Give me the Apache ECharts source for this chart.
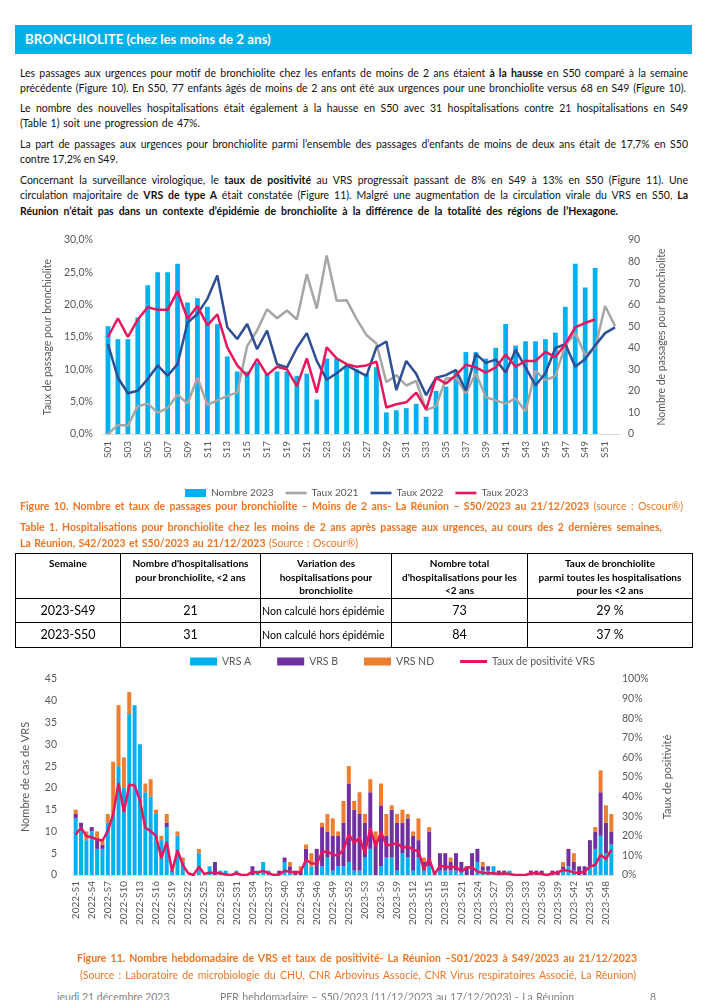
<!DOCTYPE html>
<html><head><meta charset="utf-8">
<script src="https://cdn.jsdelivr.net/npm/echarts@6/dist/echarts.min.js"></script>
<style>
body{margin:0;width:707px;height:1000px;position:relative;background:#fff;font-family:Lato,sans-serif;overflow:hidden}
#hdr{position:absolute;left:15px;top:25px;width:677px;height:29px;background:#00B0E6;color:#fff;font-weight:bold;font-size:13.3px;line-height:29px;padding-left:10px;box-sizing:border-box}
.ln{position:absolute;left:20px;white-space:nowrap;font-size:10.5px;color:#111;line-height:14px}
.or{color:#EE7623}
.cap{position:absolute;white-space:nowrap;font-size:10.5px;line-height:14px}
.ft{position:absolute;white-space:nowrap;font-size:10.5px;color:#7f7f7f;line-height:14px;top:990px}
#tb{position:absolute;left:15px;top:553px;width:677px;border-collapse:collapse;table-layout:fixed;font-family:Lato,sans-serif}
#tb td,#tb th{border:1.3px solid #000;padding:0;color:#000;white-space:nowrap;overflow:hidden}
#tb th{font-size:10px;font-weight:bold;vertical-align:top;padding-top:3px;line-height:13.5px}
#tb td{font-size:12.5px;text-align:center;line-height:20px}
#tb td.nc{text-align:left;font-size:10.6px;padding-left:1px}
#c1{position:absolute;left:0;top:225px;width:707px;height:280px}
#c2{position:absolute;left:0;top:650px;width:707px;height:300px}
</style></head><body>
<div id="hdr">BRONCHIOLITE (chez les moins de 2 ans)</div>
<div class="ln" style="top:66px" data-w="668">Les passages aux urgences pour motif de bronchiolite chez les enfants de moins de 2 ans étaient <b>à la hausse</b> en S50 comparé à la semaine</div>
<div class="ln" style="top:81px" data-w="666">précédente (Figure 10). En S50, 77 enfants âgés de moins de 2 ans ont été aux urgences pour une bronchiolite versus 68 en S49 (Figure 10).</div>
<div class="ln" style="top:101px" data-w="668">Le nombre des nouvelles hospitalisations était également à la hausse en S50 avec 31 hospitalisations contre 21 hospitalisations en S49</div>
<div class="ln" style="top:116px" data-w="180">(Table 1) soit une progression de 47%.</div>
<div class="ln" style="top:137px" data-w="668">La part de passages aux urgences pour bronchiolite parmi l’ensemble des passages d’enfants de moins de deux ans était de 17,7% en S50</div>
<div class="ln" style="top:152px" data-w="98">contre 17,2% en S49.</div>
<div class="ln" style="top:173px" data-w="668">Concernant la surveillance virologique, le <b>taux de positivité</b> au VRS progressait passant de 8% en S49 à 13% en S50 (Figure 11). Une</div>
<div class="ln" style="top:188px" data-w="668">circulation majoritaire de <b>VRS de type A</b> était constatée (Figure 11). Malgré une augmentation de la circulation virale du VRS en S50, <b>La</b></div>
<div class="ln" style="top:204px" data-w="598"><b>Réunion n’était pas dans un contexte d’épidémie de bronchiolite à la différence de la totalité des régions de l’Hexagone.</b></div>

<div id="c1"></div>

<div class="cap or" style="left:20px;top:499px" data-w="663"><b>Figure 10. Nombre et taux de passages pour bronchiolite – Moins de 2 ans- La Réunion – S50/2023 au 21/12/2023</b> (source : Oscour®)</div>
<div class="cap or" style="left:20px;top:520px" data-w="642"><b>Table 1. Hospitalisations pour bronchiolite chez les moins de 2 ans après passage aux urgences, au cours des 2 dernières semaines,</b></div>
<div class="cap or" style="left:20px;top:536px" data-w="338"><b>La Réunion, S42/2023 et S50/2023 au 21/12/2023</b> (Source : Oscour®)</div>

<table id="tb">
<colgroup><col style="width:105px"><col style="width:140px"><col style="width:131px"><col style="width:136px"><col style="width:165px"></colgroup>
<tr style="height:45px"><th>Semaine</th><th>Nombre d'hospitalisations<br>pour bronchiolite, &lt;2 ans</th><th>Variation des<br>hospitalisations pour<br>bronchiolite</th><th>Nombre total<br>d'hospitalisations pour les<br>&lt;2 ans</th><th>Taux de bronchiolite<br>parmi toutes les hospitalisations<br>pour les &lt;2 ans</th></tr>
<tbody id="tbody"></tbody>
</table>

<div id="c2"></div>

<div class="cap or" style="left:77px;top:951px" data-w="560"><b>Figure 11. Nombre hebdomadaire de VRS et taux de positivité- La Réunion –S01/2023 à S49/2023 au 21/12/2023</b></div>
<div class="cap or" style="left:80px;top:968px" data-w="556">(Source : Laboratoire de microbiologie du CHU, CNR Arbovirus Associé, CNR Virus respiratoires Associé, La Réunion)</div>

<div class="ft" style="left:57px">jeudi 21 décembre 2023</div>
<div class="ft" style="left:220px" data-w="354">PER hebdomadaire – S50/2023 (11/12/2023 au 17/12/2023) - La Réunion</div>
<div class="ft" style="left:650px">8</div>

<script>
// ---------- Figure 10 data ----------
const weeks = ['S01','S02','S03','S04','S05','S06','S07','S08','S09','S10','S11','S12','S13','S14','S15','S16','S17','S18','S19','S20','S21','S22','S23','S24','S25','S26','S27','S28','S29','S30','S31','S32','S33','S34','S35','S36','S37','S38','S39','S40','S41','S42','S43','S44','S45','S46','S47','S48','S49','S50','S51','S52'];
const nombre2023 = [50,44,44,54,69,75,75,79,61,63,59,51,36,29,29,33,28,29,29,27,28,16,35,35,31,30,28,31,10,11,12,14,8,20,22,29,38,38,35,40,51,41,43,43,44,47,59,79,68,77,null,null];
const taux2021 = [0,1.4,1.3,4.3,4.7,3.3,4.0,6.1,4.7,8.7,4.5,5.2,5.9,6.4,13.6,16.0,19.3,17.9,19.1,17.7,24.7,19.4,27.6,20.6,20.7,17.8,15.3,14.0,8.0,9.1,7.5,8.2,3.7,4.3,8.6,8.7,6.3,9.4,5.7,5.2,4.7,5.5,3.5,9.8,8.3,9.0,13.7,15.6,12.2,13.3,19.8,16.7];
const taux2022 = [13.9,8.7,6.3,6.7,8.5,10.6,9.0,10.8,17.2,18.6,20.9,24.5,16.5,14.7,17.0,13.1,16.0,10.8,10.3,13.3,15.6,11.3,8.4,9.4,10.6,9.8,9.0,13.4,14.3,6.8,11.3,9.3,6.0,8.7,9.1,9.9,6.7,12.4,11.0,11.5,9.5,13.0,10.3,7.5,9.4,13.3,13.9,10.4,11.6,13.7,15.6,16.5];
const taux2023 = [15.0,17.9,15.0,17.7,19.6,19.2,19.2,22.1,17.8,19.8,16.8,18.5,13.4,10.6,9.0,11.6,9.1,10.4,10.0,7.4,11.7,6.4,13.4,11.7,10.8,10.4,10.6,11.2,4.1,4.6,4.9,6.4,3.8,8.7,7.8,9.1,10.7,10.3,9.5,10.3,12.3,10.4,11.3,11.3,12.7,11.9,13.9,16.5,17.2,17.7,null,null];

// ---------- Table 1 data ----------
const tableWeeks = ['2023-S49','2023-S50'];
const tableHosp = [21,31];
const tableVariation = ['Non calculé hors épidémie','Non calculé hors épidémie'];
const tableTotal = [73,84];
const tableTaux = ['29 %','37 %'];

// ---------- Figure 11 data ----------
const vrsWeeks = [];
for (let w = 1; w <= 52; w++) vrsWeeks.push('2022-S' + w);
for (let w = 1; w <= 49; w++) vrsWeeks.push('2023-S' + w);
const vrsA = [13,11,8,10,6,6,12,14,25,20, 37,39,30,19,18,14,8,11,1,9, 3,0,0,5,0,2,0,1,1,0, 1,0,0,0,1,3,1,0,0,3, 1,0,0,3,2,0,2,4,1,2, 2,3,1,1,4,6,0,2,4,4, 1,5,4,1,4,1,2,1,1,1, 1,1,1,0,0,3,1,1,2,0, 0,1,0,0,0,0,0,0,0,0, 0,1,2,1,0,0,2,6,9,5,7];
const vrsB = [1,1,0,1,2,1,0,0,0,0, 0,0,0,0,0,0,0,1,0,0, 0,0,0,0,0,0,3,0,0,0, 0,0,0,2,0,0,0,0,1,1, 1,1,1,3,0,6,9,6,8,7, 10,18,14,13,8,13,8,14,5,11, 11,7,9,8,4,2,8,0,4,4, 2,4,2,2,5,3,1,1,0,1, 1,0,0,0,0,1,1,1,0,1, 1,1,4,2,2,2,6,4,10,7,3];
const vrsND = [1,0,2,0,2,1,2,12,14,7, 5,0,0,2,4,1,1,2,0,1, 1,0,0,1,0,0,0,0,0,0, 0,0,0,0,0,0,0,0,0,0, 1,0,1,1,3,0,1,4,4,1, 5,4,2,5,2,3,2,5,5,1, 2,3,1,1,5,1,1,0,0,0, 1,0,0,0,0,0,1,0,0,0, 0,0,0,0,0,0,0,0,0,0, 0,1,0,2,0,0,0,1,5,4,4];
const tauxPos = [20.7,24.1,19.8,19.3,18.1,17.6,22.4,31,47,32, 46,45.7,38,24.1,22.4,19.8,8.6,16.9,1.7,12.6, 5.2,0.9,0,4.3,0.5,1.2,1.2,0.9,0.3,0, 0.9,0,0,1.7,1.2,2.1,0.9,0,0.3,2.2, 1.7,1.2,1.7,7.8,6,5.7,11.6,12.1,10.3,10, 12.9,20.7,16.4,19,11.2,23.8,14.7,21.9,15.2,15.5, 16.4,13.8,14.7,12.9,12.1,2.9,8.3,0.3,4.7,4.3, 3.8,4.3,1.7,3.8,4,1.7,1.2,0.9,0.9,0.5, 0.9,0.5,0,0,0,0.9,0.9,0.5,0,0.9, 1.2,2.6,2.2,1.2,1.2,1.7,4.3,5.2,10.3,8.1,12.9];

// table rows
const tb = document.getElementById('tbody');
tableWeeks.forEach((w,i)=>{
  const tr = document.createElement('tr');
  tr.style.height = (i===0?24:25)+'px';
  tr.innerHTML = '<td>'+w+'</td><td>'+tableHosp[i]+'</td><td class="nc">'+tableVariation[i]+'</td><td>'+tableTotal[i]+'</td><td>'+tableTaux[i]+'</td>';
  tb.appendChild(tr);
});

function fit(){
  document.querySelectorAll('[data-w]').forEach(el=>{
    el.style.wordSpacing='0px';
    const w=+el.dataset.w, n=el.getBoundingClientRect().width;
    const sp=(el.textContent.match(/ /g)||[]).length;
    if(sp) el.style.wordSpacing=((w-n)/sp)+'px';
  });
}
fit();
if (document.fonts && document.fonts.ready) document.fonts.ready.then(fit);

const gray='#595959', font='Lato';
const lineIcon='path://M0,0 L24,0 L24,3 L0,3 Z';
const c1 = echarts.init(document.getElementById('c1'));
c1.setOption({
  animation:false,
  textStyle:{fontFamily:font},
  grid:{left:103,right:87,top:15,height:194},
  legend:{left:180,top:258,itemWidth:21,itemHeight:8,itemGap:12,textStyle:{color:gray,fontSize:10.2,fontFamily:font},
    data:[{name:'Nombre 2023',icon:'rect'},{name:'Taux 2021',icon:lineIcon},{name:'Taux 2022',icon:lineIcon},{name:'Taux 2023',icon:lineIcon}]},
  xAxis:{type:'category',data:weeks,axisTick:{show:false},axisLine:{lineStyle:{color:'#D9D9D9'}},
    axisLabel:{rotate:90,interval:1,fontSize:10,color:gray,margin:7,fontFamily:font}},
  yAxis:[
    {type:'value',min:0,max:30,interval:5,splitLine:{show:false},axisLine:{show:false},
     axisLabel:{fontSize:10.5,color:gray,margin:10,fontFamily:font,formatter:v=>v.toFixed(1).replace('.',',')+'%'},
     name:'Taux de passage pour bronchiolite',nameLocation:'middle',nameGap:49,nameRotate:90,
     nameTextStyle:{fontSize:10.5,color:gray,fontFamily:font}},
    {type:'value',min:0,max:90,interval:10,splitLine:{show:false},axisLine:{show:false},
     axisLabel:{fontSize:10.5,color:gray,margin:8,fontFamily:font},
     name:'Nombre de passages pour bronchiolite',nameLocation:'middle',nameGap:36,nameRotate:90,
     nameTextStyle:{fontSize:10.5,color:gray,fontFamily:font}}
  ],
  series:[
    {name:'Nombre 2023',type:'bar',yAxisIndex:1,data:nombre2023,barWidth:'48%',itemStyle:{color:'#00B0F0'}},
    {name:'Taux 2021',type:'line',yAxisIndex:0,data:taux2021,symbol:'none',lineStyle:{color:'#A6A6A6',width:2.5},itemStyle:{color:'#A6A6A6'}},
    {name:'Taux 2022',type:'line',yAxisIndex:0,data:taux2022,symbol:'none',lineStyle:{color:'#2F4F95',width:2.5},itemStyle:{color:'#2F4F95'}},
    {name:'Taux 2023',type:'line',yAxisIndex:0,data:taux2023,symbol:'none',lineStyle:{color:'#E8175D',width:2.5},itemStyle:{color:'#E8175D'}}
  ]
});

const c2 = echarts.init(document.getElementById('c2'));
c2.setOption({
  animation:false,
  textStyle:{fontFamily:font},
  grid:{left:73,right:93,top:29,height:196},
  legend:{left:185,top:1,itemWidth:27,itemHeight:8,itemGap:26,textStyle:{color:gray,fontSize:10.5,fontFamily:font},
    data:[{name:'VRS A',icon:'rect'},{name:'VRS B',icon:'rect'},{name:'VRS ND',icon:'rect'},{name:'Taux de positivité VRS',icon:'path://M0,0 L27,0 L27,3 L0,3 Z'}]},
  xAxis:{type:'category',data:vrsWeeks,axisTick:{show:false},axisLine:{lineStyle:{color:'#D9D9D9'}},
    axisLabel:{rotate:90,interval:2,fontSize:10,color:gray,margin:6,fontFamily:font}},
  yAxis:[
    {type:'value',min:0,max:45,interval:5,splitLine:{show:false},axisLine:{show:false},
     axisLabel:{fontSize:10.5,color:gray,margin:16,fontFamily:font},
     name:'Nombre de cas de VRS',nameLocation:'middle',nameGap:42,nameRotate:90,
     nameTextStyle:{fontSize:11,color:gray,fontFamily:font}},
    {type:'value',min:0,max:100,interval:10,splitLine:{show:false},axisLine:{show:false},
     axisLabel:{fontSize:10.5,color:gray,margin:8,fontFamily:font,formatter:'{value}%'},
     name:'Taux de positivité',nameLocation:'middle',nameGap:48,nameRotate:90,
     nameTextStyle:{fontSize:11,color:gray,fontFamily:font}}
  ],
  series:[
    {name:'VRS A',type:'bar',stack:'v',data:vrsA,barWidth:'74%',itemStyle:{color:'#00B0F0'}},
    {name:'VRS B',type:'bar',stack:'v',data:vrsB,itemStyle:{color:'#7030A0'}},
    {name:'VRS ND',type:'bar',stack:'v',data:vrsND,itemStyle:{color:'#ED7D31'}},
    {name:'Taux de positivité VRS',type:'line',yAxisIndex:1,data:tauxPos,symbol:'none',lineStyle:{color:'#E8175D',width:2.5},itemStyle:{color:'#E8175D'}}
  ]
});
</script>
</body></html>
